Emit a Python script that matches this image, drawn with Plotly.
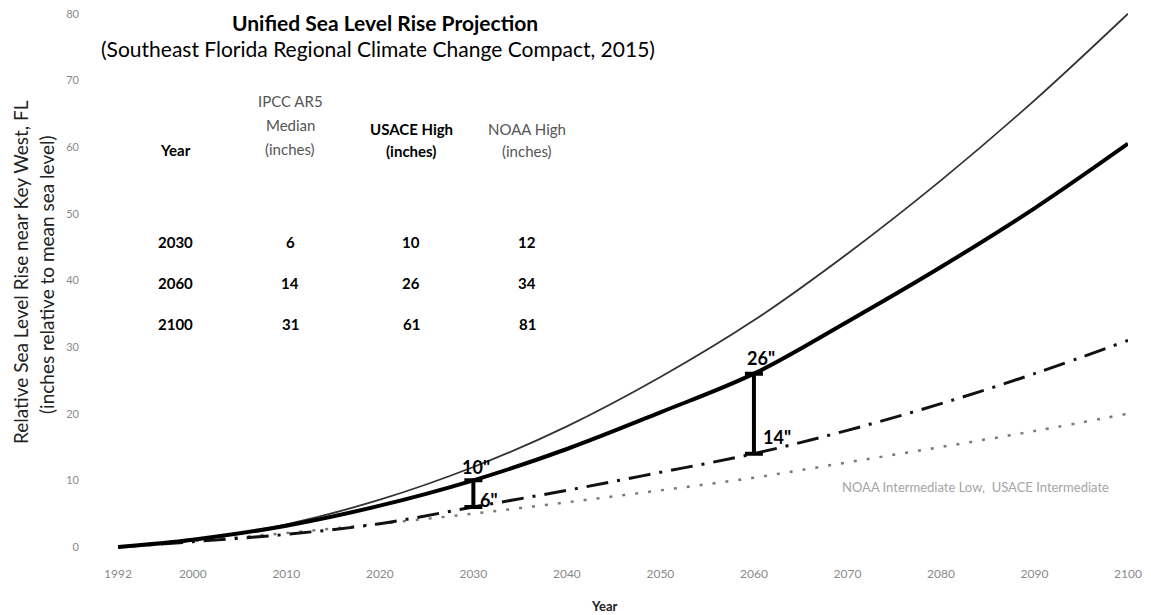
import plotly.graph_objects as go

# ---------------- data ----------------
years = [1992, 2000, 2010, 2020, 2030, 2040, 2050, 2060, 2070, 2080, 2090, 2100]
noaa_high = [0, 1.0, 3.4, 7.1, 12, 18.1, 25.5, 34, 44, 55, 67, 80]
usace_high = [0, 1.1, 3.2, 6.2, 10, 14.7, 20.2, 26, 33.8, 42, 50.8, 60.5]
ipcc_median = [0, 0.8, 1.9, 3.5, 6, 8.5, 11.2, 14, 17.5, 21.5, 26, 31]
noaa_int_low = [0, 0.9, 2.1, 3.5, 5, 6.7, 8.5, 10.4, 12.7, 15, 17.4, 20]

tick_years = [1992, 2000, 2010, 2020, 2030, 2040, 2050, 2060, 2070, 2080, 2090, 2100]
y_ticks = [0, 10, 20, 30, 40, 50, 60, 70, 80]

table_years = [2030, 2060, 2100]
table_ipcc = [6, 14, 31]
table_usace = [10, 26, 61]
table_noaa = [12, 34, 81]
bar_years = [2030, 2060]

title_text = "Unified Sea Level Rise Projection"
subtitle_text = "(Southeast Florida Regional Climate Change Compact, 2015)"
ytitle_1 = "Relative Sea Level Rise near Key West, FL"
ytitle_2 = "(inches relative to mean sea level)"
xtitle = "Year"
dotted_note = "NOAA Intermediate Low,  USACE Intermediate"

# ---------------- layout geometry ----------------
OFF = 8                      # page body margin of the browser
W, H = 1151 - OFF, 615 - OFF
ML, MR, MT, MB = 110, 23, 0, 64
PW, PH = W - ML - MR, H - MT - MB
FONT = "Lato"


def px(x):
    """screen x (reference pixels) -> paper x"""
    return (x - OFF - ML) / PW


def py(y):
    """screen y (reference pixels) -> paper y"""
    return (H - MB - (y - OFF)) / PH


def val(series, yr):
    return series[years.index(yr)]


fig = go.Figure()

fig.add_trace(go.Scatter(x=years, y=noaa_int_low, mode="lines", line_shape="spline",
                         line=dict(color="#7a7a7a", width=2.5, dash="3px,10px"),
                         name="NOAA Intermediate Low", showlegend=False))
fig.add_trace(go.Scatter(x=years, y=ipcc_median, mode="lines", line_shape="spline",
                         line=dict(color="#111111", width=3, dash="22px,9px,3px,9px"),
                         name="IPCC AR5 Median", showlegend=False))
fig.add_trace(go.Scatter(x=years, y=noaa_high, mode="lines", line_shape="spline",
                         line=dict(color="#333333", width=1.8),
                         name="NOAA High", showlegend=False))
fig.add_trace(go.Scatter(x=years, y=usace_high, mode="lines", line_shape="spline",
                         line=dict(color="#000000", width=4),
                         name="USACE High", showlegend=False))

# range bars between IPCC median and USACE high
bar_hi = [val(usace_high, y) for y in bar_years]
bar_lo = [val(ipcc_median, y) for y in bar_years]
fig.add_trace(go.Scatter(
    x=bar_years, y=bar_hi, mode="markers", marker=dict(size=1, color="rgba(0,0,0,0)"),
    error_y=dict(type="data", symmetric=False, array=[0] * len(bar_years),
                 arrayminus=[h - l for h, l in zip(bar_hi, bar_lo)],
                 color="#000000", thickness=4, width=9),
    showlegend=False, hoverinfo="skip"))

ann = []


def add_text(x, y, text, size, color="#000", **kw):
    d = dict(x=px(x), y=py(y), xref="paper", yref="paper", text=text, showarrow=False,
             xanchor="center", yanchor="middle", font=dict(family=FONT, size=size, color=color))
    d.update(kw)
    ann.append(d)


# bar labels
bold_lab = dict(family=FONT, size=18, color="#000000")
for yr, hi, lo, (hx, hy), (lx, ly) in zip(
        bar_years, bar_hi, bar_lo,
        [(3, 13), (7, 16)], [(16, 7), (23, 17)]):
    ann.append(dict(x=yr, y=hi, xref="x", yref="y", text=f"<b>{hi:g}\"</b>", showarrow=False,
                    xanchor="center", yanchor="middle", xshift=hx, yshift=hy, font=bold_lab))
    ann.append(dict(x=yr, y=lo, xref="x", yref="y", text=f"<b>{lo:g}\"</b>", showarrow=False,
                    xanchor="center", yanchor="middle", xshift=lx, yshift=ly, font=bold_lab))

# titles
add_text(385, 22, f"<b>{title_text}</b>", 21)
add_text(378, 48, subtitle_text, 21)

# y axis title (two lines)
add_text(20, 272, ytitle_1, 19, "#222", textangle=-90)
add_text(46, 275, ytitle_2, 19, "#222", textangle=-90)
# x axis title
add_text(604, 606, f"<b>{xtitle}</b>", 13, "#222")

# table header
col_x = [175, 290, 411, 527]
add_text(col_x[0], 150, "<b>Year</b>", 15)
for t, y in zip(["IPCC AR5", "Median", "(inches)"], [101, 125, 149]):
    add_text(col_x[1], y, t, 15, "#555")
for t, y in zip(["USACE High", "(inches)"], [129, 151]):
    add_text(col_x[2], y, f"<b>{t}</b>", 15)
for t, y in zip(["NOAA High", "(inches)"], [129, 151]):
    add_text(col_x[3], y, t, 15, "#555")

# table rows
row_y = [242, 283, 324]
for ry, row in zip(row_y, zip(table_years, table_ipcc, table_usace, table_noaa)):
    for cx, v in zip(col_x, row):
        add_text(cx, ry, f"<b>{v:g}</b>", 15)

# faint note near the dotted curve
add_text(975, 487, dotted_note, 13, "#a5a5a5")

fig.update_layout(
    width=W, height=H,
    margin=dict(l=ML, r=MR, t=MT, b=MB, pad=0),
    paper_bgcolor="white", plot_bgcolor="white",
    font=dict(family=FONT),
    showlegend=False,
    annotations=ann,
    xaxis=dict(range=[1992, 2100], tickvals=tick_years, ticktext=[str(t) for t in tick_years],
               showgrid=False, zeroline=False, showline=False, ticks="",
               ticklabelstandoff=14, ticklabeloverflow="allow",
               tickfont=dict(family=FONT, size=12, color="#8a8a8a")),
    yaxis=dict(range=[-0.6, 80.85], tickvals=y_ticks, showgrid=False, zeroline=False,
               showline=False, ticks="", ticklabelstandoff=38, ticklabeloverflow="allow",
               tickfont=dict(family=FONT, size=11, color="#8a8a8a")),
)

fig.write_html("out.html")
